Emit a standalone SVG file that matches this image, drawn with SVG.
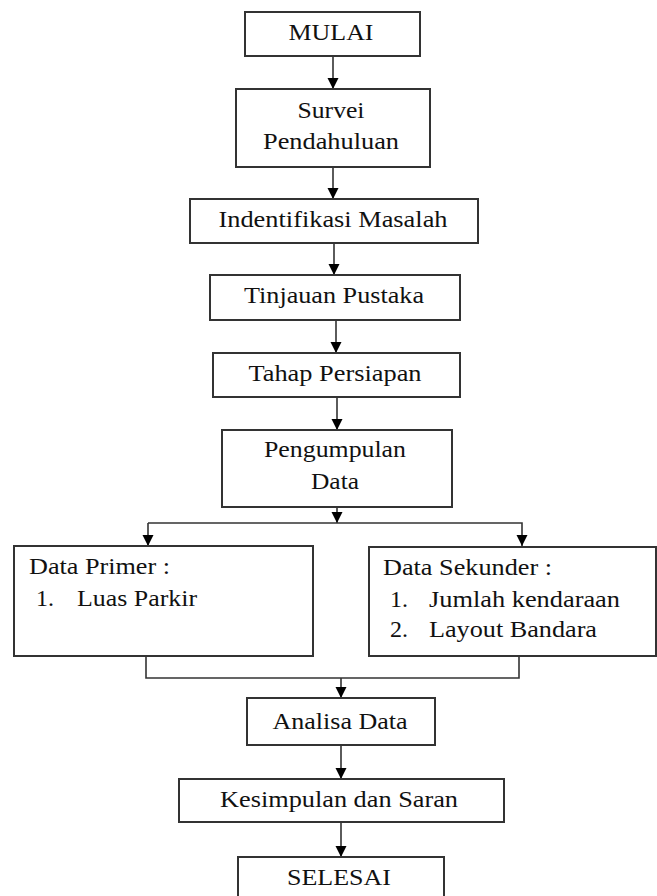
<svg xmlns="http://www.w3.org/2000/svg" width="657" height="896" viewBox="0 0 657 896">
<style>
.box{fill:#fff;stroke:#333;stroke-width:2}
.t{font-family:"Liberation Serif","Times New Roman",serif;font-size:24px;fill:#111}
.c{text-anchor:middle}
.ln{fill:none;stroke:#333;stroke-width:1.6}
</style>
<defs>
<marker id="ah" markerUnits="userSpaceOnUse" markerWidth="12" markerHeight="12" refX="11" refY="6" orient="auto">
<path d="M0,0.5 L11,6 L0,11.5 z" fill="#000"/>
</marker>
</defs>
<rect width="657" height="896" fill="#fff"/>
<g id="connectors">
<line class="ln" x1="333" y1="56" x2="333" y2="89" marker-end="url(#ah)"/>
<line class="ln" x1="333" y1="167" x2="333" y2="199" marker-end="url(#ah)"/>
<line class="ln" x1="334" y1="243" x2="334" y2="275" marker-end="url(#ah)"/>
<line class="ln" x1="336" y1="320" x2="336" y2="353" marker-end="url(#ah)"/>
<line class="ln" x1="337" y1="397" x2="337" y2="430" marker-end="url(#ah)"/>
<line class="ln" x1="337" y1="507" x2="337" y2="523" marker-end="url(#ah)"/>
<polyline class="ln" points="148,523 522,523 522,546" marker-end="url(#ah)"/>
<line class="ln" x1="148" y1="523" x2="148" y2="546" marker-end="url(#ah)"/>
<polyline class="ln" points="146,656 146,678 519,678 519,656"/>
<line class="ln" x1="341" y1="678" x2="341" y2="698" marker-end="url(#ah)"/>
<line class="ln" x1="341" y1="745" x2="341" y2="779" marker-end="url(#ah)"/>
<line class="ln" x1="341" y1="822" x2="341" y2="857" marker-end="url(#ah)"/>
</g>
<g id="mulai">
<rect class="box" x="245" y="12" width="175" height="44"/>
<text class="t c" x="331" y="40" textLength="85" lengthAdjust="spacingAndGlyphs">MULAI</text>
</g>
<g id="survei">
<rect class="box" x="236" y="89" width="194" height="78"/>
<text class="t c" x="331" y="118" textLength="67" lengthAdjust="spacingAndGlyphs">Survei</text>
<text class="t c" x="331" y="149" textLength="136" lengthAdjust="spacingAndGlyphs">Pendahuluan</text>
</g>
<g id="identifikasi">
<rect class="box" x="190" y="199" width="288" height="44"/>
<text class="t c" x="333" y="227" textLength="229" lengthAdjust="spacingAndGlyphs">Indentifikasi Masalah</text>
</g>
<g id="tinjauan">
<rect class="box" x="210" y="275" width="250" height="45"/>
<text class="t c" x="334" y="303" textLength="180" lengthAdjust="spacingAndGlyphs">Tinjauan Pustaka</text>
</g>
<g id="tahap">
<rect class="box" x="213" y="353" width="247" height="44"/>
<text class="t c" x="335" y="381" textLength="173" lengthAdjust="spacingAndGlyphs">Tahap Persiapan</text>
</g>
<g id="pengumpulan">
<rect class="box" x="222" y="430" width="230" height="77"/>
<text class="t c" x="335" y="457" textLength="142" lengthAdjust="spacingAndGlyphs">Pengumpulan</text>
<text class="t c" x="335" y="489" textLength="48" lengthAdjust="spacingAndGlyphs">Data</text>
</g>
<g id="primer">
<rect class="box" x="14" y="546" width="299" height="110"/>
<text class="t" x="29" y="574" textLength="141" lengthAdjust="spacingAndGlyphs">Data Primer :</text>
<text class="t" x="36" y="606">1.</text>
<text class="t" x="77" y="606" textLength="120" lengthAdjust="spacingAndGlyphs">Luas Parkir</text>
</g>
<g id="sekunder">
<rect class="box" x="369" y="547" width="287" height="109"/>
<text class="t" x="383" y="575" textLength="169" lengthAdjust="spacingAndGlyphs">Data Sekunder :</text>
<text class="t" x="390" y="607">1.</text>
<text class="t" x="429" y="607" textLength="191" lengthAdjust="spacingAndGlyphs">Jumlah kendaraan</text>
<text class="t" x="390" y="637">2.</text>
<text class="t" x="429" y="637" textLength="168" lengthAdjust="spacingAndGlyphs">Layout Bandara</text>
</g>
<g id="analisa">
<rect class="box" x="247" y="698" width="188" height="47"/>
<text class="t c" x="340" y="729" textLength="135" lengthAdjust="spacingAndGlyphs">Analisa Data</text>
</g>
<g id="kesimpulan">
<rect class="box" x="179" y="779" width="325" height="43"/>
<text class="t c" x="339" y="807" textLength="238" lengthAdjust="spacingAndGlyphs">Kesimpulan dan Saran</text>
</g>
<g id="selesai">
<rect class="box" x="238" y="857" width="206" height="45"/>
<text class="t c" x="339" y="885" textLength="104" lengthAdjust="spacingAndGlyphs">SELESAI</text>
</g>
</svg>
